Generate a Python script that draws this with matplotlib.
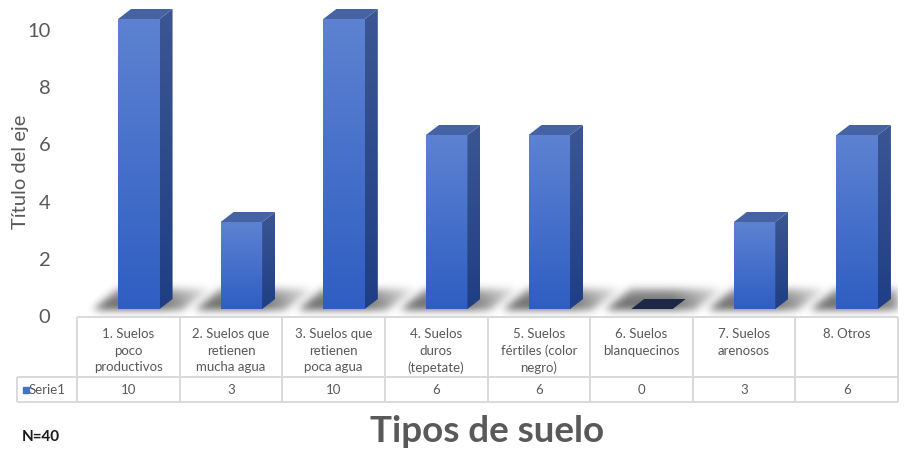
import numpy as np
import matplotlib.pyplot as plt
from matplotlib.colors import LinearSegmentedColormap
from matplotlib.patches import Polygon

categories = [
    "1. Suelos\npoco\nproductivos",
    "2. Suelos que\nretienen\nmucha agua",
    "3. Suelos que\nretienen\npoca agua",
    "4. Suelos\nduros\n(tepetate)",
    "5. Suelos\nfértiles (color\nnegro)",
    "6. Suelos\nblanquecinos",
    "7. Suelos\narenosos",
    "8. Otros",
]
values = [10, 3, 10, 6, 6, 0, 3, 6]
series_name = "Serie1"
yticks = [0, 2, 4, 6, 8, 10]
axis_title = "Título del eje"
x_title = "Tipos de suelo"
total_label = "N=40"

plt.rcParams['font.family'] = ['Lato', 'DejaVu Sans']
gray = '#595959'
W, H = 916, 453
fig = plt.figure(figsize=(W / 100, H / 100), dpi=100)


def box(x0, y0, x1, y1):
    # pixel box measured from the top-left corner -> figure fraction rect
    return [x0 / W, 1 - y1 / H, (x1 - x0) / W, (y1 - y0) / H]


n = len(values)
px_x = 821 / n   # pixels per category
px_y = 29.0      # pixels per unit on the bar fronts
y_lo = -8 / px_y
y_hi = 309 / px_y

ax = fig.add_axes(box(77, 0, 898, 317))
ax.axis('off')

shift = 10.5 / px_x   # front face sits a bit right of the column centre
width = 41.5 / px_x
dx = 13 / px_x        # depth offset of the 3d boxes
dy = 10 / px_y

# soft floor shadows behind each bar
gx = np.linspace(-0.5, n - 0.5, 821)
gy = np.linspace(y_hi, y_lo, 317)
X, Y = np.meshgrid(gx, gy)
mask = np.zeros_like(X)
y_b, y_t = -1 / px_y, 20 / px_y
for i in range(n):
    left = i + shift - width / 2
    t = (Y - y_b) / (y_t - y_b)
    le = left + (-25 + 25 * t) / px_x
    re = left + (64 + 28 * t) / px_x
    inside = (Y >= y_b) & (Y <= y_t) & (X >= le) & (X <= re)
    # darker close to the bar foot, fading to the right and upwards
    fade = np.clip(1 - (X - (left + width)) * px_x / 70, 0.25, 1)
    w = fade * (1 - 0.35 * t)
    mask = np.where(inside, np.maximum(mask, w), mask)
k = np.exp(-0.5 * (np.arange(-12, 13) / 4.0) ** 2)
k /= k.sum()
mask = np.apply_along_axis(lambda r: np.convolve(r, k, mode='same'), 1, mask)
mask = np.apply_along_axis(lambda c: np.convolve(c, k, mode='same'), 0, mask)
shadow = np.zeros(mask.shape + (4,))
shadow[..., :3] = 0.22
shadow[..., 3] = np.clip(mask, 0, 1) * 0.8
ax.imshow(shadow, extent=(-0.5, n - 0.5, y_lo, y_hi), aspect='auto',
          interpolation='bilinear', zorder=1)

front_cmap = LinearSegmentedColormap.from_list('front', ['#2f5ec2', '#5d82d1'])
side_cmap = LinearSegmentedColormap.from_list('side', ['#1f3e84', '#3b5693'])
grad = np.linspace(0, 1, 256).reshape(-1, 1)

for i, v in enumerate(values):
    x0 = i + shift - width / 2
    x1 = x0 + width
    if v > 0:
        front = ax.bar(i + shift, v, width=width, color='none', zorder=3)[0]
        im = ax.imshow(grad, cmap=front_cmap, origin='lower', aspect='auto',
                       extent=(x0, x1, 0, v), zorder=3)
        im.set_clip_path(front)
        side = Polygon([(x1, 0), (x1 + dx, dy), (x1 + dx, v + dy), (x1, v)],
                       closed=True, facecolor='none', edgecolor='none')
        ax.add_patch(side)
        im2 = ax.imshow(grad, cmap=side_cmap, origin='lower', aspect='auto',
                        extent=(x1, x1 + dx, 0, v + dy), zorder=3)
        im2.set_clip_path(side)
        top_color = '#4562a3'
    else:
        top_color = '#1c2846'
    ax.add_patch(Polygon([(x0, v), (x1, v), (x1 + dx, v + dy), (x0 + dx, v + dy)],
                         closed=True, facecolor=top_color, edgecolor='none', zorder=4))

ax.set_xlim(-0.5, n - 0.5)
ax.set_ylim(y_lo, y_hi)

# value axis labels (Excel puts them on the back wall scale)
ax_t = fig.add_axes(box(77, 0, 898, 317), frameon=False)
ax_t.set_ylim(-1 / 28.6, 316 / 28.6)
ax_t.set_yticks(yticks)
ax_t.set_xticks([])
ax_t.tick_params(axis='y', length=0, pad=19, labelsize=14.5, labelcolor=gray)
ax_t.set_ylabel(axis_title, fontsize=14.5, color=gray)
ax_t.yaxis.set_label_coords(-0.059, 1 - 172 / 317)

# data table under the chart
ax_tab = fig.add_axes(box(17, 317, 898, 402))
left_lbl = -0.5 - 60 / px_x
ax_tab.set_xlim(left_lbl, n - 0.5)
ax_tab.set_ylim(0, 85)
ax_tab.axis('off')
grid_kw = dict(color='#d9d9d9', lw=1.4, clip_on=False)
ax_tab.hlines(85, -0.5, n - 0.5, **grid_kw)
ax_tab.hlines([0, 25], left_lbl, n - 0.5, **grid_kw)
ax_tab.vlines(np.arange(n + 1) - 0.5, 0, 85, **grid_kw)
ax_tab.vlines(left_lbl, 0, 25, **grid_kw)
for i, (c, v) in enumerate(zip(categories, values)):
    ax_tab.text(i, 73.5, c, ha='center', va='top', fontsize=9.5, color=gray,
                linespacing=1.42)
    ax_tab.text(i, 12.5, str(v), ha='center', va='center', fontsize=9.5, color=gray)
ax_tab.plot([left_lbl + 8.5 / px_x], [12.5], marker='s', markersize=4.5,
            color='#4472c4', clip_on=False)
ax_tab.text(left_lbl + 12 / px_x, 12.5, series_name, ha='left', va='center',
            fontsize=9.5, color=gray)

fig.text((77 + 898) / 2 / W, 1 - 432 / H, x_title, ha='center', va='center',
         fontsize=26.5, fontweight='bold', color=gray)
fig.text(22 / W, 1 - 437 / H, total_label, ha='left', va='center',
         fontsize=11, fontweight='bold', color='#1a1a1a')

fig.savefig('out.png', dpi=100)
